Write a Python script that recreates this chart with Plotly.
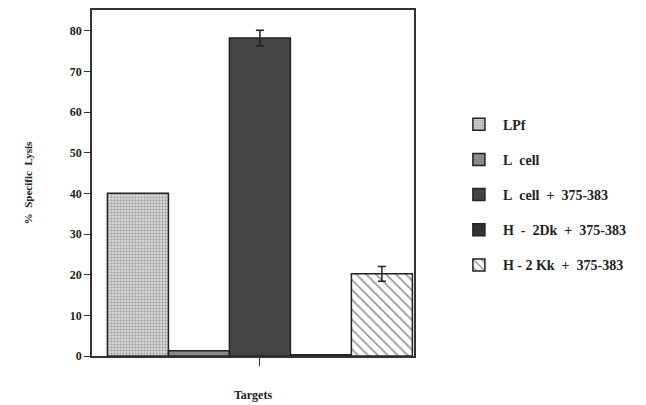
import plotly.graph_objects as go

S = "\u2002"  # wide gap used in the legend labels
categories = [""]
series_names = ["LPf", "L" + S + "cell", "L" + S + "cell" + S + "+" + S + "375-383",
                "H" + S + "-" + S + "2Dk" + S + "+" + S + "375-383",
                "H - 2 Kk" + S + "+" + S + "375-383"]
values = [40.0, 1.3, 78.2, 0.3, 20.2]
errors = [None, None, 1.9, None, 1.8]
y_ticks = [0, 10, 20, 30, 40, 50, 60, 70, 80]

fills = [
    dict(color="#d8d8d8", pattern=dict(shape=".", fgcolor="#666666", bgcolor="#e4e4e4", size=3, solidity=0.5)),
    dict(color="#8a8a8a"),
    dict(color="#444444"),
    dict(color="#333333"),
    dict(color="white", pattern=dict(shape="\\", fgcolor="#333333", bgcolor="white", size=7, solidity=0.25)),
]

serif = "Liberation Serif"
fig = go.Figure()
for i, name in enumerate(series_names):
    marker = dict(line=dict(color="#222222", width=1.5))
    marker.update(fills[i])
    kw = {}
    if errors[i] is not None:
        kw["error_y"] = dict(type="data", array=[errors[i]], color="#222222", thickness=1.5, width=4)
    fig.add_trace(go.Bar(
        x=categories, y=[values[i]], name="<b>" + name + "</b>", marker=marker,
        legendgroup=str(i), **kw))

fig.update_layout(
    width=638, height=397,
    barmode="group", bargap=0.05, bargroupgap=0,
    paper_bgcolor="white", plot_bgcolor="white",
    margin=dict(l=84, r=232, t=0, b=49),
    font=dict(family=serif, color="#222222", size=11),
    legend=dict(x=1.127, y=0.715, xanchor="left", yanchor="top", itemwidth=38,
                tracegroupgap=14, font=dict(family=serif, size=14, color="#222222"),
                traceorder="grouped"),
    xaxis=dict(range=[-0.523, 0.48], showline=True, linecolor="#333333", linewidth=1.5,
               mirror=True, ticks="outside", ticklen=8, tickcolor="#333333",
               title=dict(text="<b>Targets</b>", font=dict(size=12), standoff=24),
               showgrid=False),
    yaxis=dict(range=[0, 85.1], tickvals=y_ticks, ticktext=["<b>%d</b>" % v for v in y_ticks],
               showline=True, linecolor="#333333", linewidth=1.5, mirror=True,
               ticks="outside", ticklen=6, tickcolor="#333333", showgrid=False, zeroline=False,
               tickfont=dict(size=12),
               title=dict(text="<b>%  Specific  Lysis</b>", font=dict(size=11), standoff=35)),
)
fig.write_html("out.html")
